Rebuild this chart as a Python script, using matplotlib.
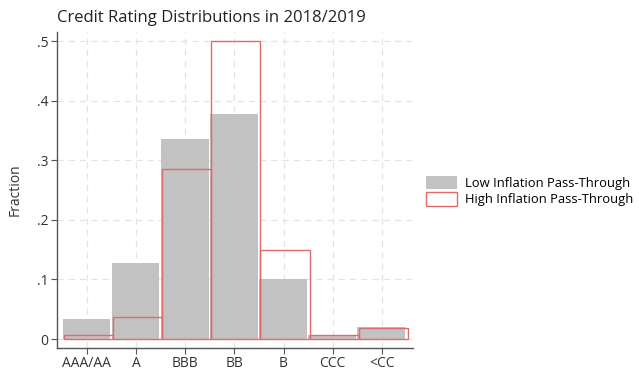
import matplotlib.pyplot as plt
from matplotlib.patches import Patch

plt.rcParams['font.family'] = ['Open Sans', 'DejaVu Sans']

ratings = ['AAA/AA', 'A', 'BBB', 'BB', 'B', 'CCC', '<CC']
low_pass = [0.033, 0.128, 0.335, 0.377, 0.101, 0.007, 0.020]
high_pass = [0.007, 0.037, 0.285, 0.500, 0.150, 0.007, 0.018]
y_ticks = [0, 0.1, 0.2, 0.3, 0.4, 0.5]
y_labels = ['0', '.1', '.2', '.3', '.4', '.5']

gray = '#c2c2c2'
red = '#e36a6a'

fig = plt.figure(figsize=(6.39, 3.73), dpi=100)
ax = fig.add_axes([0.089, 0.067, 0.557, 0.847])

x = list(range(len(ratings)))
ax.bar([i - 0.01 for i in x], low_pass, width=0.97, color=gray, edgecolor='none',
       zorder=2, label='Low Inflation Pass-Through')
ax.bar([i + 0.03 for i in x], high_pass, width=1.0, facecolor='none', edgecolor=red,
       linewidth=1.0, zorder=3, label='High Inflation Pass-Through')

ax.set_xlim(-0.61, 6.63)
ax.set_ylim(-0.015, 0.515)
ax.set_xticks(x)
ax.set_xticklabels(ratings, fontsize=10, color='#333333')
ax.set_yticks(y_ticks)
ax.set_yticklabels(y_labels, fontsize=10, color='#333333')
ax.set_ylabel('Fraction', fontsize=10, color='#333333', labelpad=10)
ax.set_title('Credit Rating Distributions in 2018/2019', fontsize=12, color='#222222',
             loc='left', x=0.0, pad=7)

ax.grid(True, color='#e4e4e4', linestyle=(0, (5, 4)), linewidth=0.9, zorder=0)
ax.set_axisbelow(True)
for side in ['top', 'right']:
    ax.spines[side].set_visible(False)
for side in ['left', 'bottom']:
    ax.spines[side].set_color('#555555')
    ax.spines[side].set_linewidth(1.0)
ax.tick_params(axis='both', length=4, color='#555555', pad=2)

handles = [Patch(facecolor=gray, edgecolor='none', label='Low Inflation Pass-Through'),
           Patch(facecolor='white', edgecolor=red, label='High Inflation Pass-Through')]
fig.legend(handles=handles, loc='center left', bbox_to_anchor=(0.658, 0.488),
           frameon=False, fontsize=9.4, handlelength=2.4, handleheight=1.2,
           handletextpad=0.6, labelspacing=0.2, borderaxespad=0)

fig.savefig('out.png', dpi=100)
